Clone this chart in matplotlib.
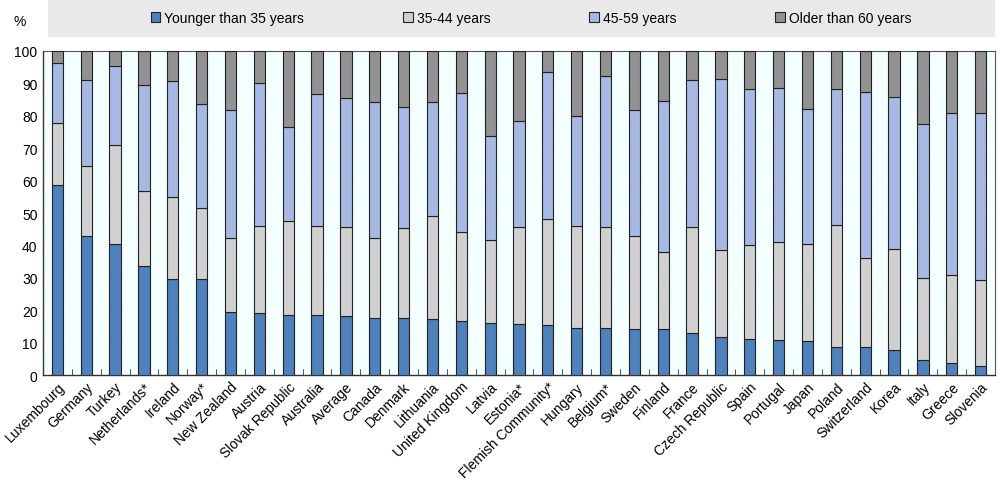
import matplotlib.pyplot as plt
import numpy as np

plt.rcParams["font.family"] = ["Liberation Sans", "DejaVu Sans"]

countries = ["Luxembourg", "Germany", "Turkey", "Netherlands*", "Ireland", "Norway*",
             "New Zealand", "Austria", "Slovak Republic", "Australia", "Average",
             "Canada", "Denmark", "Lithuania", "United Kingdom", "Latvia", "Estonia*",
             "Flemish Community*", "Hungary", "Belgium*", "Sweden", "Finland", "France",
             "Czech Republic", "Spain", "Portugal", "Japan", "Poland", "Switzerland",
             "Korea", "Italy", "Greece", "Slovenia"]

# cumulative tops (%)
top_under35 = [58.6, 42.9, 40.5, 33.8, 29.7, 29.6, 19.4, 19.2, 18.4, 18.4, 18.2,
               17.7, 17.5, 17.4, 16.8, 16.1, 15.7, 15.5, 14.6, 14.4, 14.3, 14.2, 13.0,
               11.7, 11.2, 10.9, 10.6, 8.6, 8.6, 7.9, 4.6, 3.7, 2.8]
top_35_44 = [77.7, 64.4, 71.1, 56.7, 55.1, 51.6, 42.4, 46.0, 47.4, 45.9, 45.7,
             42.4, 45.4, 49.1, 44.3, 41.8, 45.7, 48.3, 45.9, 45.8, 42.9, 37.9, 45.6,
             38.7, 40.0, 41.2, 40.3, 46.2, 36.2, 38.8, 29.9, 30.8, 29.5]
top_45_59 = [96.2, 91.1, 95.3, 89.5, 90.7, 83.6, 81.8, 90.1, 76.6, 86.7, 85.6,
             84.3, 82.8, 84.4, 86.9, 73.8, 78.5, 93.6, 79.8, 92.4, 81.8, 84.7, 91.1,
             91.3, 88.3, 88.6, 82.0, 88.3, 87.2, 85.8, 77.6, 81.0, 80.8]

labels = ["Younger than 35 years", "35-44 years", "45-59 years", "Older than 60 years"]
colors = ["#4f81bd", "#d0d0d0", "#a7b9e3", "#929292"]

a = np.array(top_under35)
b = np.array(top_35_44) - a
c = np.array(top_45_59) - np.array(top_35_44)
d = 100 - np.array(top_45_59)
series = [a, b, c, d]

fig = plt.figure(figsize=(10, 4.81), dpi=100)
ax = fig.add_axes([0.043, 0.218, 0.952, 0.674])
ax.set_facecolor("#f4ffff")

x = np.arange(len(countries))
bottom = np.zeros(len(countries))
handles = []
for vals, col, lab in zip(series, colors, labels):
    h = ax.bar(x, vals, bottom=bottom, width=0.39, color=col,
               edgecolor="#222222", linewidth=0.8, label=lab, zorder=3)
    handles.append(h)
    bottom += vals

ax.set_xlim(-0.5, len(countries) - 0.5)
ax.set_ylim(0, 100)
ax.set_yticks(range(0, 101, 10))
ax.yaxis.grid(True, color="white", linewidth=0.8, zorder=0)
ax.tick_params(axis="y", length=0, labelsize=10, pad=4)

ax.set_xticks(x)
ax.set_xticklabels(countries, rotation=45, ha="right", rotation_mode="anchor",
                   fontsize=10)
ax.tick_params(axis="x", length=0, pad=3)
ax.set_xticks(np.arange(len(countries) + 1) - 0.5, minor=True)
ax.tick_params(axis="x", which="minor", direction="in", length=4, color="#333333")

for s in ["left", "bottom"]:
    ax.spines[s].set_color("#333333")
    ax.spines[s].set_linewidth(1.0)
for s in ["top", "right"]:
    ax.spines[s].set_color("#555555")
    ax.spines[s].set_linewidth(0.8)

fig.text(0.013, 0.955, "%", fontsize=10, va="center")

# legend band
band = fig.add_axes([0.048, 0.921, 0.947, 0.079])
band.set_facecolor("#e9e9e9")
band.set_xticks([])
band.set_yticks([])
for s in band.spines.values():
    s.set_visible(False)
band.legend(handles, labels, loc="center", ncol=4, frameon=False,
            fontsize=10, handlelength=0.7, handleheight=0.7,
            handletextpad=0.3, columnspacing=7.1, bbox_to_anchor=(0.51, 0.5))

fig.savefig("out.png", dpi=100)
